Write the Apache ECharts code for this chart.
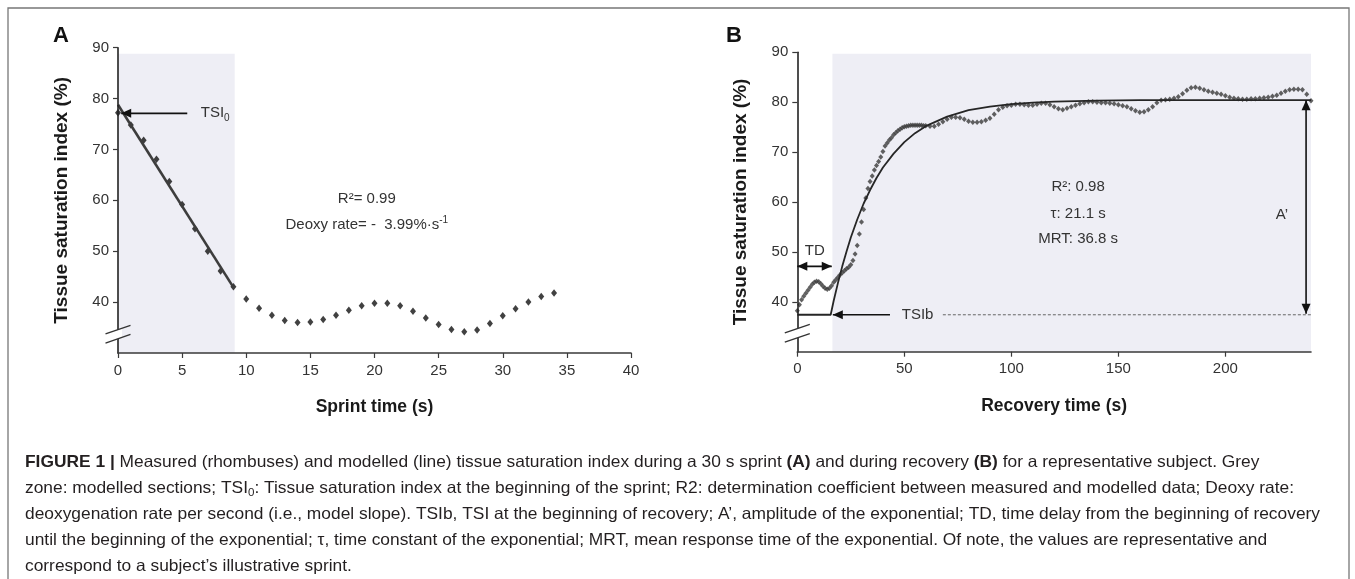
<!DOCTYPE html>
<html><head><meta charset="utf-8">
<script src="https://cdn.jsdelivr.net/npm/echarts@6.0.0/dist/echarts.min.js"></script>
<style>html,body{margin:0;padding:0;background:#fff;}#c{width:1355px;height:579px;}</style>
</head><body><div id="c"></div>
<script>
// ---------- DATA ----------
const sprintTime = [0,1,2,3,4,5,6,7,8,9,10,11,12,13,14,15,16,17,18,19,20,21,22,23,24,25,26,27,28,29,30,31,32,33,34];
const sprintTSI = [77.2,74.8,71.8,68.1,63.7,59.2,54.4,50.0,46.1,43.0,40.6,38.8,37.4,36.4,36.0,36.1,36.6,37.4,38.4,39.3,39.8,39.8,39.3,38.2,36.9,35.6,34.6,34.2,34.5,35.8,37.3,38.7,40.0,41.1,41.8];
const sprintModelTime = [0, 9];
const sprintModelTSI = [78.8, 42.9];

const recTime = [0,1,2,3,4,5,6,7,8,9,10,11,12,13,14,15,16,17,18,19,20,21,22,23,24,25,26,27,28,29,30,31,32,33,34,35,36,37,38,39,40,41,42,43,44,45,46,47,48,49,50,51,52,53,54,55,56,57,58,59,60,
 62,64,66,68,70,72,74,76,78,80,82,84,86,88,90,92,94,96,98,100,102,104,106,108,110,112,114,116,118,120,122,124,126,128,130,132,134,136,138,140,142,144,146,148,150,152,154,156,158,160,162,164,166,168,170,172,174,176,178,180,182,184,186,188,190,192,194,196,198,200,202,204,206,208,210,212,214,216,218,220,222,224,226,228,230,232,234,236,238,240];
const recTSI = [38.2,39.4,40.4,41.1,41.7,42.3,42.9,43.5,43.9,44.1,
 44.0,43.6,43.1,42.7,42.5,42.7,43.2,43.9,44.4,44.9,
 45.4,45.8,46.2,46.6,46.9,47.4,48.3,49.6,51.3,53.6,
 56.0,58.5,60.8,62.7,64.1,65.2,66.4,67.3,68.1,69.0,
 70.1,71.2,71.8,72.4,72.9,73.5,73.9,74.3,74.6,74.9,
 75.1,75.2,75.3,75.4,75.4,75.4,75.4,75.4,75.4,75.3,75.3,
 75.2,75.2,75.6,76.1,76.6,77.0,77.0,76.9,76.6,76.2,
 76.0,76.0,76.1,76.4,76.8,77.6,78.5,79.0,79.3,79.4,
 79.6,79.6,79.5,79.4,79.4,79.6,79.8,79.8,79.5,79.1,
 78.7,78.5,78.8,79.1,79.4,79.7,79.9,80.1,80.1,80.0,
 79.9,79.9,79.8,79.7,79.5,79.3,79.1,78.7,78.3,78.0,
 78.1,78.5,79.1,79.9,80.4,80.5,80.6,80.8,81.1,81.7,
 82.4,82.9,83.0,82.8,82.5,82.2,82.0,81.8,81.6,81.3,
 81.0,80.8,80.7,80.6,80.6,80.7,80.7,80.8,80.9,81.0,
 81.2,81.4,81.8,82.2,82.5,82.6,82.6,82.5,81.6,80.3];
const recModelTime = [0,15.6,17,19,21,23,25,28,31,34,37,40,45,50,55,60,70,80,90,100,110,120,140,160,200,240];
const recModelTSI  = [37.4,37.4,40.2,43.8,47.1,50.1,52.9,56.5,59.7,62.4,64.8,66.9,69.7,72.0,73.8,75.2,77.1,78.4,79.1,79.6,79.9,80.1,80.3,80.4,80.4,80.4];

const sprintTicksX = [0,5,10,15,20,25,30,35,40];
const recTicksX = [0,50,100,150,200];
const yTicks = [40,50,60,70,80,90];

// ---------- STYLE / LAYOUT ----------
const FONT = '"Liberation Sans", Arial, Helvetica, sans-serif';
const AX = '#3a3a3a';
const chart = echarts.init(document.getElementById('c'), null, {renderer:'canvas'});

function xAx(gi, max, ticks, name){
  return {gridIndex:gi, type:'value', min:0, max:max, interval:(gi===0?5:50), name:name,
    nameLocation:'middle', nameGap:45,
    nameTextStyle:{fontFamily:FONT, fontWeight:'bold', fontSize:17.5, color:'#1a1a1a'},
    axisLine:{show:true, lineStyle:{color:AX, width:1.6}},
    axisTick:{show:true, length:5, customValues:ticks, lineStyle:{color:AX, width:1.2}},
    axisLabel:{fontFamily:FONT, fontSize:15, color:'#333', margin:10, customValues:ticks},
    splitLine:{show:false}, z:10};
}
function yAx(gi){
  return {gridIndex:gi, type:'value', min:30, max:90, interval:10, name:'Tissue saturation index (%)',
    nameLocation:'middle', nameGap:47,
    nameTextStyle:{fontFamily:FONT, fontWeight:'bold', fontSize:19, color:'#1a1a1a'},
    axisLine:{show:true, lineStyle:{color:'#222', width:1.6}},
    axisTick:{show:true, length:5, customValues:yTicks, lineStyle:{color:AX, width:1.2}},
    axisLabel:{fontFamily:FONT, fontSize:15, color:'#333', margin:9, customValues:yTicks},
    splitLine:{show:false}, z:10};
}

const option = {
  animation:false,
  backgroundColor:'#fff',
  textStyle:{fontFamily:FONT},
  grid:[{left:118, top:47.7, width:513, height:305.3},{left:797.3, top:52.3, width:513.7, height:299.4}],
  xAxis:[xAx(0,40,sprintTicksX,'Sprint time (s)'), xAx(1,240,recTicksX,'Recovery time (s)')],
  yAxis:[yAx(0), yAx(1)],
  series:[
    {type:'line', name:'Sprint model', xAxisIndex:0, yAxisIndex:0, z:4,
     data:sprintModelTime.map((t,i)=>[t,sprintModelTSI[i]]), symbol:'none',
     lineStyle:{color:'#3d3d3d', width:2.6},
     markArea:{silent:true, itemStyle:{color:'#eeeef5'}, data:[[{coord:[0,30]},{coord:[9.1,88.8]}]]}},
    {type:'scatter', name:'Sprint measured', xAxisIndex:0, yAxisIndex:0, z:3,
     data:sprintTime.map((t,i)=>[t,sprintTSI[i]]), symbol:'diamond', symbolSize:[6,7.5],
     itemStyle:{color:'#111'}},
    {type:'scatter', name:'Recovery measured', xAxisIndex:1, yAxisIndex:1, z:3,
     data:recTime.map((t,i)=>[t,recTSI[i]]), symbol:'diamond', symbolSize:[5,5.5],
     itemStyle:{color:'#3a3a3a'},
     markArea:{silent:true, itemStyle:{color:'#eeeef5'}, data:[[{coord:[16.4,30]},{coord:[240,89.7]}]]}},
    {type:'line', name:'Recovery model', xAxisIndex:1, yAxisIndex:1, z:4,
     data:recModelTime.map((t,i)=>[t,recModelTSI[i]]), symbol:'none',
     lineStyle:{color:'#262626', width:1.8}}
  ]
};
chart.setOption(option);

// ---------- ANNOTATIONS (data coordinates) ----------
const g = [];
function P(gi, pt){ return chart.convertToPixel({gridIndex:gi}, pt); }
function seg(a,b,style){ g.push({type:'line', z:20, shape:{x1:a[0],y1:a[1],x2:b[0],y2:b[1]}, style:Object.assign({stroke:'#111', lineWidth:1.6}, style||{})}); }
function head(tip, from){
  const dx=tip[0]-from[0], dy=tip[1]-from[1], L=Math.hypot(dx,dy), ux=dx/L, uy=dy/L, len=10, w=4.5;
  const bx=tip[0]-ux*len, by=tip[1]-uy*len;
  g.push({type:'polygon', z:21, shape:{points:[[tip[0],tip[1]],[bx-uy*w,by+ux*w],[bx+uy*w,by-ux*w]]}, style:{fill:'#111'}});
}
function arrow(gi, from, to, both){ const a=P(gi,from), b=P(gi,to); seg(a,b); head(b,a); if(both) head(a,b); }
function label(gi, pt, text, opts){
  const p=P(gi,pt);
  g.push({type:'text', z:22, x:p[0], y:p[1], style:Object.assign({text:text, fill:'#333', fontSize:15, fontFamily:FONT, align:'center', verticalAlign:'middle'}, opts||{})});
}
function brk(gi, yv){
  const p=P(gi,[0,yv]); const ax=p[0], yc=p[1];
  const s=-8.6/25, off=4.6;
  const yU=x=>yc-off+s*(x-ax), yL=x=>yc+off+s*(x-ax);
  g.push({type:'polygon', z:19, shape:{points:[[ax-4,yU(ax-4)],[ax+4,yU(ax+4)],[ax+4,yL(ax+4)],[ax-4,yL(ax-4)]]}, style:{fill:'#fff'}});
  seg([ax-12.5,yU(ax-12.5)],[ax+12.5,yU(ax+12.5)],{stroke:'#333',lineWidth:1.3});
  seg([ax-12.5,yL(ax-12.5)],[ax+12.5,yL(ax+12.5)],{stroke:'#333',lineWidth:1.3});
}
const richSub = {a:{fontSize:15, fontFamily:FONT, fill:'#333', lineHeight:19}, s:{fontSize:10, fontFamily:FONT, fill:'#333', verticalAlign:'bottom', lineHeight:11}, p:{fontSize:10, fontFamily:FONT, fill:'#333', verticalAlign:'top', lineHeight:11}};

// Panel A
arrow(0,[5.4,77.1],[0.25,77.1]);
label(0,[6.45,77.1],'{a|TSI}{s|0}',{align:'left', rich:richSub});
label(0,[19.4,60.2],'R²= 0.99');
label(0,[19.4,55.2],'{a|Deoxy rate= -  3.99%·s}{p|-1}',{rich:richSub});
brk(0,33.7);
// Panel B
arrow(1,[0,47.1],[16.1,47.1],true);
label(1,[8.2,50.3],'TD');
arrow(1,[43.3,37.4],[16.6,37.4]);
label(1,[48.8,37.4],'TSIb',{align:'left'});
seg(P(1,[68,37.4]),P(1,[240,37.4]),{stroke:'#666',lineWidth:1,lineDash:[3,2]});
arrow(1,[237.7,80.4],[237.7,37.6],true);
label(1,[226.4,57.5],'A’');
label(1,[131.2,63.0],'R²: 0.98');
label(1,[131.2,57.7],'τ: 21.1 s');
label(1,[131.2,52.6],'MRT: 36.8 s');
brk(1,33.7);

// Panel letters and frame
g.push({type:'rect', z:0, shape:{x:8, y:8, width:1341, height:620}, style:{fill:'none', stroke:'#777', lineWidth:1.3}});
g.push({type:'text', z:22, x:61, y:36, style:{text:'A', fontSize:22, fontWeight:'bold', fontFamily:FONT, fill:'#111', align:'center', verticalAlign:'middle'}});
g.push({type:'text', z:22, x:734, y:36, style:{text:'B', fontSize:22, fontWeight:'bold', fontFamily:FONT, fill:'#111', align:'center', verticalAlign:'middle'}});

// Caption
const cap = [
 '{b|FIGURE 1 |}{n| Measured (rhombuses) and modelled (line) tissue saturation index during a 30 s sprint }{b|(A)}{n| and during recovery }{b|(B)}{n| for a representative subject. Grey}',
 '{n|zone: modelled sections; TSI}{s|0}{n|: Tissue saturation index at the beginning of the sprint; R2: determination coefficient between measured and modelled data; Deoxy rate:}',
 '{n|deoxygenation rate per second (i.e., model slope). TSIb, TSI at the beginning of recovery; A’, amplitude of the exponential; TD, time delay from the beginning of recovery}',
 '{n|until the beginning of the exponential; τ, time constant of the exponential; MRT, mean response time of the exponential. Of note, the values are representative and}',
 '{n|correspond to a subject’s illustrative sprint.}'
];
const ctx = document.createElement('canvas').getContext('2d');
ctx.font = '16.5px "Liberation Sans"';
const w3 = ctx.measureText('deoxygenation rate per second (i.e., model slope). TSIb, TSI at the beginning of recovery; A’, amplitude of the exponential; TD, time delay from the beginning of recovery').width;
const capScale = (1320-25)/w3;
const capRich = {n:{fontSize:16.5, fontFamily:FONT, fill:'#231f20', lineHeight:20},
                 b:{fontSize:16.5, fontFamily:FONT, fontWeight:'bold', fill:'#231f20', lineHeight:20},
                 s:{fontSize:11, fontFamily:FONT, fill:'#231f20', verticalAlign:'bottom', lineHeight:12}};
const capY = [462, 488, 514, 540, 566];
cap.forEach((t,i)=>{
  g.push({type:'text', z:22, x:25, y:capY[i], scaleX:capScale, style:{text:t, rich:capRich, align:'left', verticalAlign:'middle'}});
});

chart.setOption({graphic:g});
</script></body></html>
